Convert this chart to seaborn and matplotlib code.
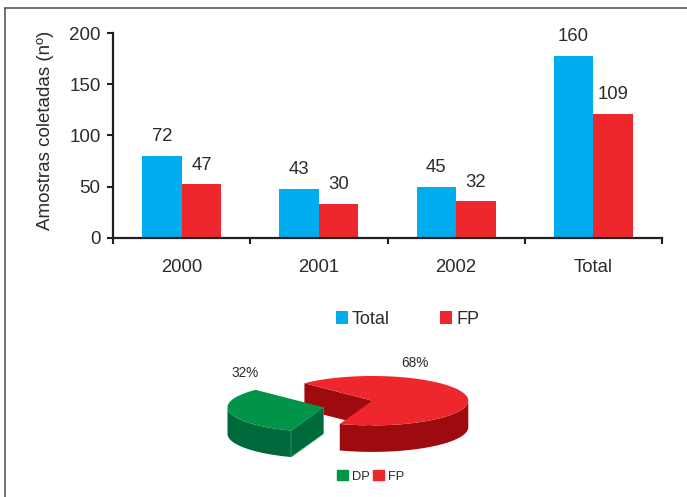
import numpy as np
import pandas as pd
import seaborn as sns
import matplotlib.pyplot as plt
from matplotlib.lines import Line2D

# Samples collected per year
periods = ["2000", "2001", "2002", "Total"]
total_samples = [72, 43, 45, 160]
fp_samples = [47, 30, 32, 109]
series_names = ["Total", "FP"]
axis_ticks = [0, 50, 100, 150, 200]

# Share of each sample type
share_labels = ["DP", "FP"]
share_values = [32, 68]

BLUE, RED, DARK_RED = "#00aeef", "#ee272c", "#9e0b0f"
GREEN, DARK_GREEN, EDGE_GREEN = "#009448", "#00693c", "#2aa866"
INK = "#2b2b2b"
W, H = 687, 497

sns.set_theme(style="white")
plt.rcParams["font.family"] = ["Liberation Sans", "DejaVu Sans"]
plt.rcParams["text.color"] = INK

fig = plt.figure(figsize=(W / 100, H / 100), dpi=100, facecolor="white")
ax = fig.add_axes([113 / W, 1 - 237.7 / H, 549 / W, 204.4 / H])

df = pd.DataFrame({
    "period": periods * 2,
    "series": [series_names[0]] * 4 + [series_names[1]] * 4,
    "samples": total_samples + fp_samples,
})
sns.barplot(data=df, x="period", y="samples", hue="series", order=periods,
            hue_order=series_names, palette=[BLUE, RED], width=0.576, gap=0,
            saturation=1, linewidth=0, ax=ax)

# Bars sit on their own scale; the printed axis runs 0-200 on a twin
ax.set_ylim(0, 180.1)
ax.set_xlim(-0.5, 3.5)
ax.set_xlabel("")
ax.set_ylabel("")
ax.yaxis.set_visible(False)
for container in ax.containers:
    ax.bar_label(container, fmt="%d", padding=7.8, fontsize=13.3, color=INK)

# Category ticks fall between groups, labels stay centred on them
ax.set_xticks(np.arange(-0.5, 4, 1))
ax.set_xticklabels([])
ax.set_xticks(range(4), periods, minor=True)
ax.tick_params(axis="x", which="major", bottom=True, length=4.5, width=1.5,
               color="#231f20")
ax.tick_params(axis="x", which="minor", bottom=False, length=0, pad=15,
               labelsize=13.3, labelcolor=INK)

scale_ax = ax.twinx()
scale_ax.set_ylim(0, 200)
scale_ax.set_yticks(axis_ticks)
scale_ax.yaxis.tick_left()
scale_ax.yaxis.set_label_position("left")
scale_ax.tick_params(axis="y", left=True, right=False, length=4, width=1.5,
                     color="#231f20", pad=5, labelsize=13.5, labelcolor=INK)
scale_ax.set_ylabel("Amostras coletadas (nº)", fontsize=13.5, color=INK)
scale_ax.yaxis.set_label_coords(-0.108, 0.525)

for a in (ax, scale_ax):
    a.spines[["top", "right"]].set_visible(False)
    a.spines["left"].set_visible(a is scale_ax)
    a.spines["bottom"].set_visible(a is ax)
    for s in ("left", "bottom"):
        a.spines[s].set_linewidth(1.6)
        a.spines[s].set_color("#231f20")

handles, labels = ax.get_legend_handles_labels()
ax.legend(handles, labels, loc="upper left", frameon=False, ncols=2, fontsize=13,
          bbox_to_anchor=(335.5 / W, 1 - 311 / H), bbox_transform=fig.transFigure,
          borderpad=0, borderaxespad=0, handlelength=0.7, handleheight=0.7,
          handletextpad=0.22, columnspacing=2.75)

# Pseudo-3D exploded pie, drawn in pixel coordinates of the figure
pie = fig.add_axes([0, 0, 1, 1], facecolor="none")
pie.set_xlim(0, W)
pie.set_ylim(H, 0)
pie.axis("off")

RX, RY, DEPTH = 96, 24.7, 26.5


def rim(cx, cy, start, stop):
    t = np.radians(np.linspace(start, stop, 120))
    return cx + RX * np.cos(t), cy - RY * np.sin(t)


def wall(x, y, color, **kw):
    wx = np.r_[x, x[::-1]]
    wy = np.r_[y, y[::-1] + DEPTH]
    pie.fill(wx, wy, color=color, **kw)


BOUNDARY = 135
dp_sweep = 360 * share_values[0] / sum(share_values)
red_stop = BOUNDARY + dp_sweep - 360

# FP slice: rear cut face, rim wall, then the top
rx0, ry0 = 372.3, 400.7
lx, ly = rim(rx0, ry0, BOUNDARY, BOUNDARY)
wall(np.r_[lx[0], rx0], np.r_[ly[0], ry0], DARK_RED, lw=0)
wall(*rim(rx0, ry0, red_stop, 0), DARK_RED, lw=0)
x, y = rim(rx0, ry0, red_stop, BOUNDARY)
pie.fill(np.r_[rx0, x], np.r_[ry0, y], color=RED, lw=0)

# DP slice, pulled away to the lower left
gx0, gy0 = 323.5, 407.3
x, y = rim(gx0, gy0, 180, BOUNDARY + dp_sweep)
wall(x, y, DARK_GREEN, lw=0)
wall(np.r_[x[-1], gx0], np.r_[y[-1], gy0], DARK_GREEN, ec=EDGE_GREEN, linewidth=0.5)
x, y = rim(gx0, gy0, BOUNDARY, BOUNDARY + dp_sweep)
pie.fill(np.r_[gx0, x], np.r_[gy0, y], color=GREEN, lw=0)

pie.text(245, 373, f"{share_values[0]}%", ha="center", va="center", fontsize=9.8)
pie.text(415, 363, f"{share_values[1]}%", ha="center", va="center", fontsize=9.8)

pie.legend(handles=[plt.Rectangle((0, 0), 1, 1, color=GREEN), plt.Rectangle((0, 0), 1, 1, color=RED)],
           labels=share_labels, loc="upper left", frameon=False, ncols=2, fontsize=9.3,
           bbox_to_anchor=(337 / W, 1 - 470 / H), bbox_transform=fig.transFigure,
           borderpad=0, borderaxespad=0, handlelength=0.85, handleheight=0.85,
           handletextpad=0.3, columnspacing=0.3)

# Frame around the panel: top and left edges only
for xs, ys in (((4.5, W), (7.5, 7.5)), ((4.5, 4.5), (7.5, H))):
    fig.add_artist(Line2D([v / W for v in xs], [1 - v / H for v in ys],
                          color="#4d4d4d", lw=1.1))

fig.savefig("out.png", dpi=100)
